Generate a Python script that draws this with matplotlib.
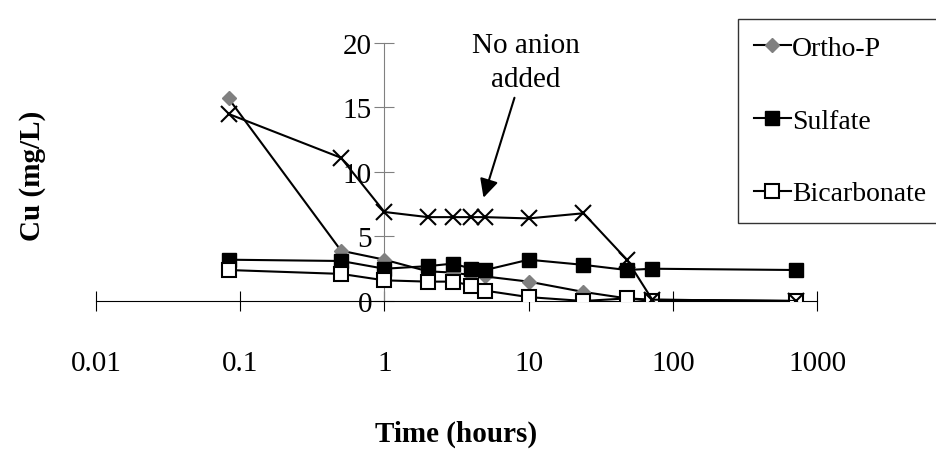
import matplotlib
matplotlib.use("Agg")
import matplotlib.pyplot as plt

plt.rcParams['font.family'] = ['Liberation Serif', 'DejaVu Serif']

time = [0.083, 0.5, 1, 2, 3, 4, 5, 10, 24, 48, 72, 720]
ortho_p = [15.7, 3.9, 3.2, 2.3, 2.2, 2.0, 1.9, 1.5, 0.7, 0.2, 0.1, 0.0]
sulfate = [3.2, 3.1, 2.5, 2.7, 2.9, 2.5, 2.4, 3.2, 2.8, 2.4, 2.5, 2.4]
bicarbonate = [2.4, 2.1, 1.6, 1.5, 1.5, 1.2, 0.8, 0.3, 0.0, 0.2, 0.0, 0.0]
no_anion = [14.5, 11.1, 6.9, 6.5, 6.5, 6.5, 6.5, 6.4, 6.8, 3.2, 0.1, 0.0]
xticks = [0.01, 0.1, 1, 10, 100, 1000]
xticklabels = ['0.01', '0.1', '1', '10', '100', '1000']
yticks = [0, 5, 10, 15, 20]

fig = plt.figure(figsize=(9.37, 4.52), dpi=100)
ax = fig.add_axes([0.1025, 0.3319, 0.7695, 0.5708])
ax.set_xscale('log')
ax.set_xlim(0.01, 1000)
ax.set_ylim(0, 20)

ax.plot(time, ortho_p, color='black', lw=1.5, marker='D', ms=7,
        mfc='#808080', mec='#808080', label='Ortho-P', zorder=3)
ax.plot(time, sulfate, color='black', lw=1.5, marker='s', ms=10,
        mfc='black', mec='black', label='Sulfate', zorder=4)
ax.plot(time, bicarbonate, color='black', lw=1.5, marker='s', ms=10,
        mfc='white', mec='black', mew=1.5, label='Bicarbonate', zorder=5)
ax.plot(time, no_anion, color='black', lw=1.5, marker='x', ms=11, mew=1.5,
        zorder=6)

ax.spines['top'].set_visible(False)
ax.spines['right'].set_visible(False)
ax.spines['left'].set_position(('data', 1))
ax.spines['left'].set_color('#808080')
ax.spines['bottom'].set_color('black')
ax.set_xticks(xticks)
ax.set_xticklabels(xticklabels)
ax.minorticks_off()
ax.set_yticks(yticks)
ax.tick_params(axis='x', direction='inout', length=14, pad=28, labelsize=21)
ax.tick_params(axis='y', direction='inout', length=14, pad=2, labelsize=21,
               color='#808080')

ax.set_xlabel('Time (hours)', fontsize=21, fontweight='bold', labelpad=32)
fig.text(0.035, 0.61, 'Cu (mg/L)', rotation=90, fontsize=21,
         fontweight='bold', ha='center', va='center')

ax.annotate('No anion\nadded', xy=(4.8, 7.8), xytext=(9.5, 18.5),
            fontsize=21, ha='center', va='center', linespacing=1.4,
            arrowprops=dict(arrowstyle='-|>', color='black', lw=1.5,
                            mutation_scale=28))

leg = ax.legend(loc='upper left', bbox_to_anchor=(0.89, 1.093), fontsize=20,
                frameon=True, fancybox=False, edgecolor='black',
                handlelength=1.3, handletextpad=0.05, borderpad=0.6,
                borderaxespad=0, labelspacing=1.7)
leg.get_frame().set_linewidth(1.0)

fig.savefig('out.png', dpi=100)
